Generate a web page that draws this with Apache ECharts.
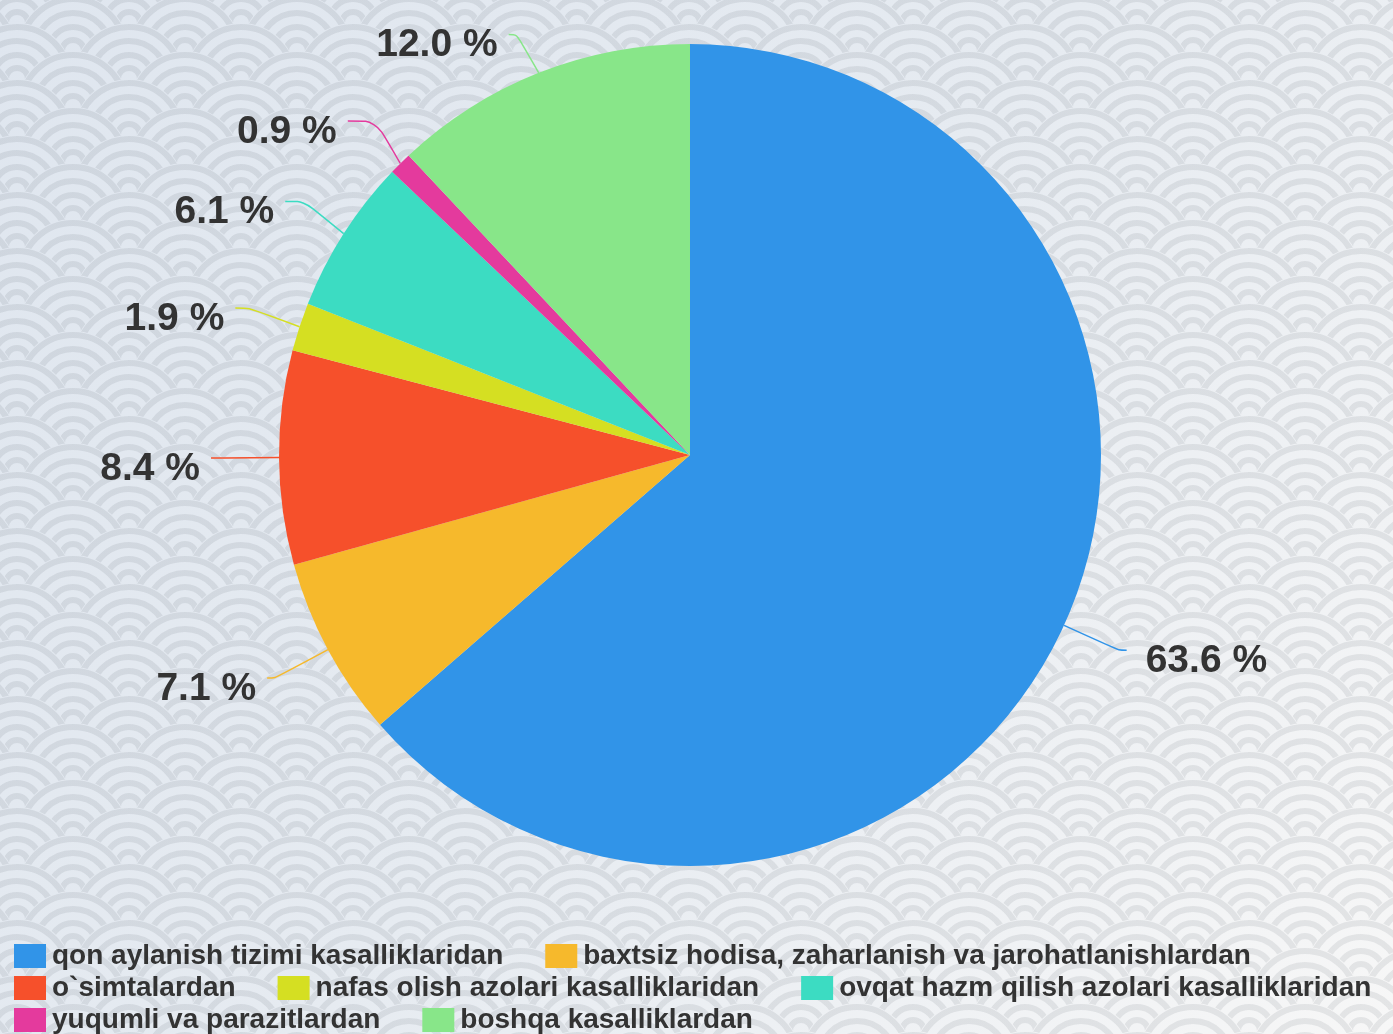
<!DOCTYPE html>
<html>
<head>
<meta charset="utf-8">
<style>
  html, body { margin: 0; padding: 0; }
  #chart { width: 1393px; height: 1034px; }
</style>
<script src="https://cdn.jsdelivr.net/npm/echarts@6/dist/echarts.min.js"></script>
</head>
<body>
<div id="chart"></div>
<script>
const categories = [
    "qon aylanish tizimi kasalliklaridan",
    "baxtsiz hodisa, zaharlanish va jarohatlanishlardan",
    "o`simtalardan",
    "nafas olish azolari kasalliklaridan",
    "ovqat hazm qilish azolari kasalliklaridan",
    "yuqumli va parazitlardan",
    "boshqa kasalliklardan"
];
const shares = [63.6, 7.1, 8.4, 1.9, 6.1, 0.9, 12.0];
const sliceColors = ["#3194e8", "#f6b92c", "#f6502b", "#d5df22", "#3cdcc2", "#e43a9d", "#88e689"];

// seigaiha wave tile for the background
function makeWaveTile() {
    const w = 112, h = 56;
    const c = document.createElement("canvas");
    c.width = w;
    c.height = h;
    const ctx = c.getContext("2d");
    const centers = [];
    for (let k = -3; k <= 4; k++) {
        const y = 23 + k * 28;
        const shift = (k % 2 === 0) ? 17 : 73;
        for (let j = -2; j <= 2; j++) {
            centers.push([shift + j * 112, y]);
        }
    }
    centers.sort((a, b) => a[1] - b[1]);
    centers.forEach(([x, y]) => {
        ctx.globalCompositeOperation = "destination-out";
        ctx.beginPath();
        ctx.arc(x, y, 56, 0, Math.PI * 2);
        ctx.fill();
        ctx.globalCompositeOperation = "source-over";
        ctx.strokeStyle = "rgba(60, 70, 80, 0.10)";
        ctx.lineWidth = 6;
        [52, 38, 24, 11].forEach(r => {
            ctx.beginPath();
            ctx.arc(x, y, r, 0, Math.PI * 2);
            ctx.stroke();
        });
    });
    return c;
}

// a few labels sit a little further out on the left side
const lineTail = { 2: 13, 3: 14, 4: 19, 5: 28 };

const chart = echarts.init(document.getElementById("chart"));
const option = {
    backgroundColor: "transparent",
    graphic: [
        {
            type: "rect",
            z: -10,
            silent: true,
            shape: { x: 0, y: 0, width: 1393, height: 1034 },
            style: {
                fill: new echarts.graphic.LinearGradient(0, 0, 1, 1, [
                    { offset: 0, color: "#dfe6ef" },
                    { offset: 0.5, color: "#e6ebf1" },
                    { offset: 1, color: "#f7f7f7" }
                ])
            }
        },
        {
            type: "rect",
            z: -9,
            silent: true,
            shape: { x: 0, y: 0, width: 1393, height: 1034 },
            style: { fill: { image: makeWaveTile(), repeat: "repeat" } }
        }
    ],
    color: sliceColors,
    legend: {
        left: 9,
        top: 937,
        width: 1450,
        itemWidth: 32,
        itemHeight: 24,
        itemGap: 4,
        icon: "rect",
        textStyle: {
            color: "#333",
            fontFamily: "Liberation Sans, Arial, sans-serif",
            fontWeight: "bold",
            fontSize: 28,
            lineHeight: 24,
            padding: [0, 38, 0, 1]
        },
        data: categories
    },
    series: [{
        type: "pie",
        center: [690, 455],
        radius: 411,
        startAngle: 90,
        clockwise: true,
        data: categories.map((name, i) => {
            const item = { name, value: shares[i] };
            if (lineTail[i]) item.labelLine = { length2: lineTail[i] };
            return item;
        }),
        label: {
            show: true,
            padding: [0, 6, 0, 14],
            formatter: p => "{s| }\n{v|" + p.value.toFixed(1) + " %}",
            rich: {
                s: { fontSize: 10, height: 22, lineHeight: 22 },
                v: {
                    color: "#333",
                    fontFamily: "Liberation Sans, Arial, sans-serif",
                    fontWeight: "bold",
                    fontSize: 39,
                    lineHeight: 45
                }
            }
        },
        labelLine: {
            show: true,
            length: 60,
            length2: 8,
            smooth: 0.3,
            lineStyle: { width: 1.5 }
        },
        emphasis: { scale: false }
    }]
};
chart.setOption(option);
</script>
</body>
</html>
